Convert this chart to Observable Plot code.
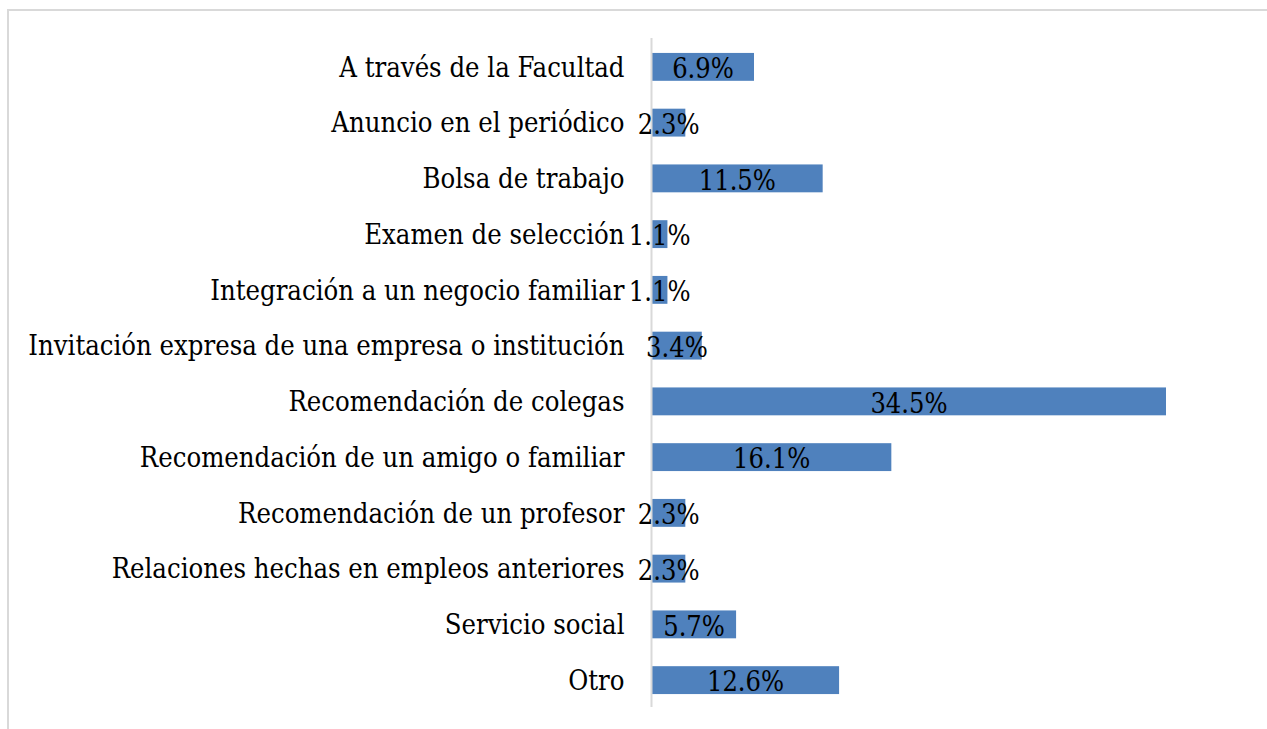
<!DOCTYPE html>
<html>
<head>
<meta charset="utf-8">
<script src="https://cdn.jsdelivr.net/npm/d3@7"></script>
<script src="https://cdn.jsdelivr.net/npm/@observablehq/plot@0.6"></script>
<style>
  html, body { margin: 0; padding: 0; background: #fff; }
  #wrap { position: relative; width: 1267px; height: 729px; overflow: hidden; }
  #frame { position: absolute; left: 7px; top: 9px; width: 1300px; height: 800px;
           border-left: 2px solid #d9d9d9; border-top: 2px solid #d9d9d9; }
  #chart { position: absolute; left: 0; top: 0; }
</style>
</head>
<body>
<div id="wrap"><div id="frame"></div><div id="chart"></div></div>
<script>
const categories = [
  "A través de la Facultad",
  "Anuncio en el periódico",
  "Bolsa de trabajo",
  "Examen de selección",
  "Integración a un negocio familiar",
  "Invitación expresa de una empresa o institución",
  "Recomendación de colegas",
  "Recomendación de un amigo o familiar",
  "Recomendación de un profesor",
  "Relaciones hechas en empleos anteriores",
  "Servicio social",
  "Otro"
];
const values = [6.9, 2.3, 11.5, 1.1, 1.1, 3.4, 34.5, 16.1, 2.3, 2.3, 5.7, 12.6];

const data = categories.map((c, i) => ({category: c, value: values[i]}));
const font = "'DejaVu Serif Condensed', 'DejaVu Serif', serif";

const chart = Plot.plot({
  width: 1267,
  height: 729,
  marginLeft: 651,
  marginRight: 101,
  marginTop: 38,
  marginBottom: 22,
  style: {fontFamily: font, fontSize: "27px", color: "#000", background: "transparent"},
  x: {domain: [0, 34.5], axis: null},
  y: {domain: categories, paddingInner: 0.5, paddingOuter: 0.25, round: false, label: null},
  marks: [
    Plot.barX(data, {x: "value", y: "category", fill: "#4f81bd", dy: 1}),
    Plot.ruleX([0], {stroke: "#d9d9d9", strokeWidth: 2}),
    Plot.axisY({tickSize: 0, tickPadding: 27, fontSize: 27.2, fill: "#000", label: null, dy: 1.5}),
    Plot.text(data, {
      x: d => d.value / 2,
      y: "category",
      text: d => d.value.toFixed(1) + "%",
      fontSize: 27,
      fill: "#000",
      dy: 3
    })
  ]
});
document.getElementById("chart").appendChild(chart);
</script>
</body>
</html>
